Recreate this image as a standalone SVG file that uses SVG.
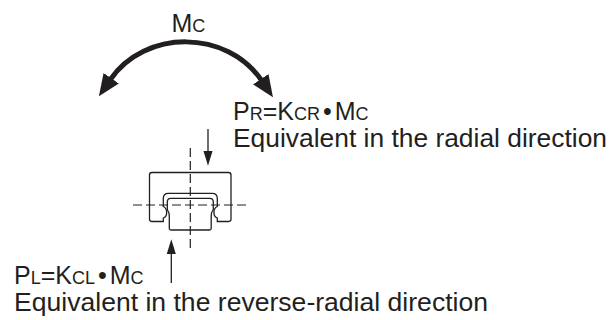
<svg xmlns="http://www.w3.org/2000/svg" width="616" height="320" viewBox="0 0 616 320">
<style>
.t{font-family:"Liberation Sans",Arial,sans-serif;font-size:26px;fill:#231f20}
.f{font-size:25px}
.s{font-size:18px}
.ln{fill:none;stroke:#231f20;stroke-width:1.3}
.dash{fill:none;stroke:#231f20;stroke-width:1.2;stroke-dasharray:9 4}
.thin{fill:none;stroke:#231f20;stroke-width:1.3}
.thick{fill:none;stroke:#231f20;stroke-width:5}
</style>
<defs>
<marker id="big" markerUnits="userSpaceOnUse" markerWidth="24" markerHeight="24" refX="2" refY="0" viewBox="0 -10 22 20" orient="auto-start-reverse">
<path d="M0,-8.5 L20,0 L0,8.5 z" fill="#231f20"/>
</marker>
<marker id="small" markerUnits="userSpaceOnUse" markerWidth="16" markerHeight="12" refX="1" refY="0" viewBox="0 -5 14 10" orient="auto">
<path d="M0,-4 L13,0 L0,4 z" fill="#231f20"/>
</marker>
</defs>
<rect width="616" height="320" fill="#fff"/>
<g id="moment">
<text class="t f" x="171.5" y="31.5">M<tspan class="s">C</tspan></text>
</g>
<g id="block">
<path class="ln" d="M149.5,175 Q149.5,172.5 152,172.5 L228.5,172.5 Q231,172.5 231,175 L231,219 Q231,221.5 228.5,221.5 L217.3,221.5 L217.3,218 C212.8,216.5 212.8,208.5 217.3,206.5 L217.3,198.5 Q217.3,193.3 212.3,193.3 L168.3,193.3 Q163.3,193.3 163.3,198.5 L163.3,206.5 C167.8,208.5 167.8,216.5 163.3,218 L163.3,221.5 L152,221.5 Q149.5,221.5 149.5,219 Z"/>
<path class="ln" d="M169.3,216 L169.3,228.5 Q169.3,230 171,230 L209.5,230 Q211.2,230 211.2,228.5 L211.2,216 Q211.2,212.5 213.3,209.5 L213.3,202 Q213.3,198.3 209.8,198.3 L170.8,198.3 Q167.3,198.3 167.3,202 L167.3,209.5 Q169.3,212.5 169.3,216 Z"/>
<line class="dash" x1="190.3" y1="148" x2="190.3" y2="252"/>
<line class="dash" x1="133" y1="205" x2="249" y2="205"/>
</g>
<g id="radial-load">
<text class="t f" x="233" y="120">P<tspan class="s">R</tspan>=K<tspan class="s">CR</tspan><tspan dx="3">•</tspan><tspan dx="3">M</tspan><tspan class="s">C</tspan></text>
<text class="t" x="233" y="146.5" textLength="374" lengthAdjust="spacingAndGlyphs">Equivalent in the radial direction</text>
</g>
<g id="reverse-load">
<text class="t f" x="14" y="283.5">P<tspan class="s">L</tspan>=K<tspan class="s">CL</tspan><tspan dx="3">•</tspan><tspan dx="3">M</tspan><tspan class="s">C</tspan></text>
<text class="t" x="14" y="311" textLength="474" lengthAdjust="spacingAndGlyphs">Equivalent in the reverse-radial direction</text>
</g>
<g id="connectors">
<path class="thick" d="M110,80 C145,29 227,29 262,81" marker-start="url(#big)" marker-end="url(#big)"/>
<line class="thin" x1="208" y1="129" x2="208" y2="152" marker-end="url(#small)"/>
<line class="thin" x1="171.3" y1="283" x2="171.3" y2="253" marker-end="url(#small)"/>
</g>
</svg>
